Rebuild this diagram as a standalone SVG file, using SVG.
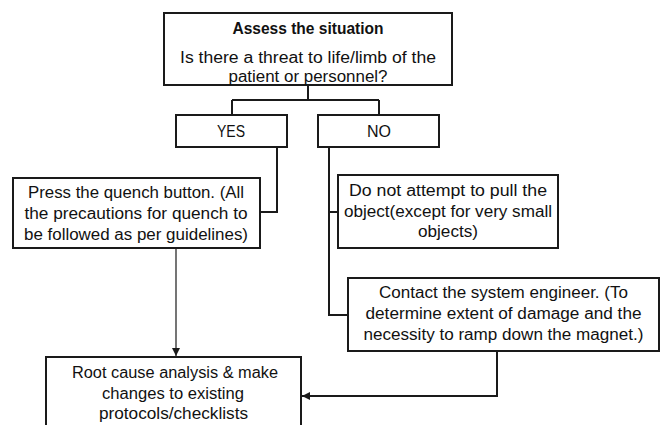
<svg xmlns="http://www.w3.org/2000/svg" width="661" height="425" viewBox="0 0 661 425">
  <style>
    .box { fill: #ffffff; stroke: #1a1a1a; stroke-width: 2; }
    .t { font-family: "Liberation Sans", Arial, sans-serif; font-size: 16px; fill: #111111; text-anchor: middle; }
    .b { font-weight: bold; }
    .c { fill: none; stroke: #1a1a1a; stroke-width: 2; }
    .thin { fill: none; stroke: #1a1a1a; stroke-width: 1.2; }
  </style>
  <defs>
    <marker id="ah" viewBox="0 0 10 10" refX="10" refY="5" markerWidth="8" markerHeight="8" markerUnits="userSpaceOnUse" orient="auto">
      <path d="M0,0 L10,5 L0,10 Z" fill="#1a1a1a"/>
    </marker>
  </defs>
  <rect width="661" height="425" fill="#ffffff"/>

  <g id="connectors">
    <path class="c" d="M308,85 V100 M232,100 H379 M232,100 V115 M379,100 V115"/>
    <path class="c" d="M277,147 V212 H260"/>
    <path class="c" d="M329,147 V315 H348 M329,212 H338"/>
    <path class="thin" d="M176,248 V356" marker-end="url(#ah)"/>
    <path class="c" d="M497,351 V396 H302" marker-end="url(#ah)"/>
  </g>

  <g id="assess">
    <rect class="box" x="164" y="13" width="288" height="72"/>
    <text class="t b" x="308" y="34" textLength="151" lengthAdjust="spacingAndGlyphs">Assess the situation</text>
    <text class="t" x="308" y="63" textLength="256" lengthAdjust="spacingAndGlyphs">Is there a threat to life/limb of the</text>
    <text class="t" x="308" y="82" textLength="159" lengthAdjust="spacingAndGlyphs">patient or personnel?</text>
  </g>

  <g id="yes">
    <rect class="box" x="176" y="115" width="111" height="32"/>
    <text class="t" x="231" y="137" textLength="28" lengthAdjust="spacingAndGlyphs">YES</text>
  </g>

  <g id="no">
    <rect class="box" x="318" y="115" width="121" height="32"/>
    <text class="t" x="379" y="137" textLength="24" lengthAdjust="spacingAndGlyphs">NO</text>
  </g>

  <g id="quench">
    <rect class="box" x="13" y="178" width="247" height="70"/>
    <text class="t" x="136" y="198" textLength="216" lengthAdjust="spacingAndGlyphs">Press the quench button. (All</text>
    <text class="t" x="136" y="219" textLength="223" lengthAdjust="spacingAndGlyphs">the precautions for quench to</text>
    <text class="t" x="136" y="240" textLength="224" lengthAdjust="spacingAndGlyphs">be followed as per guidelines)</text>
  </g>

  <g id="donot">
    <rect class="box" x="338" y="175" width="220" height="73"/>
    <text class="t" x="448" y="196" textLength="198" lengthAdjust="spacingAndGlyphs">Do not attempt to pull the</text>
    <text class="t" x="448" y="217" textLength="208" lengthAdjust="spacingAndGlyphs">object(except for very small</text>
    <text class="t" x="448" y="237" textLength="60" lengthAdjust="spacingAndGlyphs">objects)</text>
  </g>

  <g id="contact">
    <rect class="box" x="348" y="278" width="311" height="73"/>
    <text class="t" x="503.5" y="298" textLength="249" lengthAdjust="spacingAndGlyphs">Contact the system engineer. (To</text>
    <text class="t" x="503.5" y="319" textLength="276" lengthAdjust="spacingAndGlyphs">determine extent of damage and the</text>
    <text class="t" x="503.5" y="340" textLength="280" lengthAdjust="spacingAndGlyphs">necessity to ramp down the magnet.)</text>
  </g>

  <g id="root">
    <rect class="box" x="46" y="357" width="255" height="80"/>
    <text class="t" x="175" y="378" textLength="206" lengthAdjust="spacingAndGlyphs">Root cause analysis &amp; make</text>
    <text class="t" x="173" y="399" textLength="142" lengthAdjust="spacingAndGlyphs">changes to existing</text>
    <text class="t" x="173.5" y="419" textLength="149" lengthAdjust="spacingAndGlyphs">protocols/checklists</text>
  </g>
</svg>
